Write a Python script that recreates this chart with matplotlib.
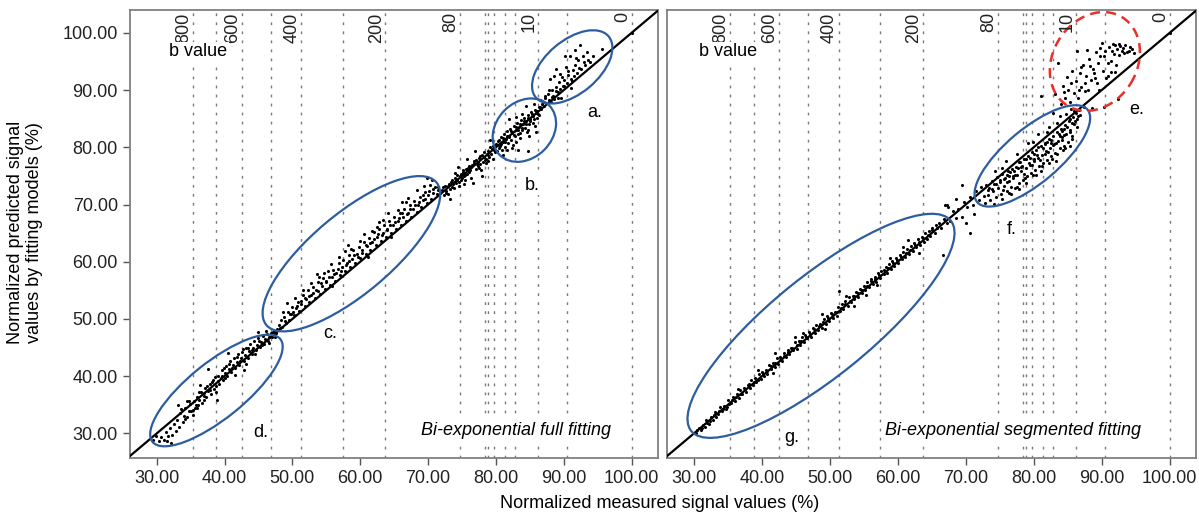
#!/usr/bin/env python3
import numpy as np
import matplotlib
matplotlib.use('Agg')
import matplotlib.pyplot as plt
from matplotlib.patches import Ellipse
from matplotlib.transforms import Affine2D

plt.rcParams['font.family'] = ['Liberation Sans', 'DejaVu Sans']

# ---- data (measured %, predicted %) ----
FULL_D = [(29.4, 28.8), (29.9, 29.5), (30.3, 28.7), (30.7, 29.4), (31.0, 28.9), (31.3, 30.2), (31.6, 29.5),
          (31.9, 30.9), (32.2, 29.8), (32.5, 31.7), (32.8, 30.4), (33.0, 32.4), (33.3, 31.2), (33.5, 33.6),
          (33.8, 32.0), (34.0, 33.1), (34.2, 34.4), (34.5, 32.8), (34.7, 33.9), (34.9, 35.1), (35.1, 34.0),
          (35.3, 33.2), (35.5, 35.6), (35.7, 34.5), (35.9, 36.3), (36.1, 35.0), (36.3, 35.8), (36.5, 37.2),
          (36.7, 35.4), (36.9, 36.6), (37.1, 38.0), (37.3, 36.3), (37.5, 41.2), (37.6, 37.4), (37.8, 38.6),
          (38.0, 36.8), (38.2, 38.9), (38.4, 37.7), (38.6, 39.8), (38.8, 38.2), (39.0, 40.1), (39.2, 38.7),
          (39.4, 39.6), (39.6, 41.0), (39.8, 39.3), (40.0, 40.6), (40.2, 41.8), (40.4, 40.0), (40.6, 41.3),
          (40.8, 42.6), (41.0, 40.7), (41.2, 42.0), (41.4, 43.1), (41.6, 41.5), (41.8, 42.5), (42.0, 43.8),
          (42.2, 41.9), (42.4, 43.2), (42.6, 44.3), (42.8, 42.6), (43.0, 43.7), (43.2, 45.0), (43.4, 43.2),
          (43.6, 44.4), (43.8, 45.6), (44.0, 43.9), (44.2, 45.0), (44.4, 46.1), (44.6, 44.6), (44.8, 45.5),
          (45.0, 46.6), (45.2, 45.1), (45.4, 46.0), (45.6, 47.1), (45.8, 45.7), (46.0, 46.5), (46.2, 47.4),
          (46.4, 46.2), (46.6, 46.9), (46.8, 47.6), (47.0, 46.8), (47.2, 47.3), (47.4, 47.9), (47.6, 47.5),
          (47.8, 48.2), (36.4, 38.4), (40.5, 44.1), (33.2, 35.0), (38.9, 35.9), (42.9, 41.0), (44.9, 47.7),
          (31.5, 28.6), (32.1, 28.4)]
FULL_D2 = [(33.6, 34.3), (34.1, 32.6), (34.8, 35.6), (35.4, 34.1), (35.8, 35.0), (36.2, 37.3), (36.9, 35.9),
           (37.4, 38.3), (37.9, 37.6), (38.3, 39.4), (38.7, 37.3), (39.1, 39.2), (39.6, 40.1), (40.1, 39.6),
           (40.6, 42.1), (41.1, 41.4), (41.5, 40.2), (41.9, 43.3), (42.3, 42.6), (42.7, 44.8), (43.1, 42.2),
           (43.5, 44.9), (44.1, 44.6), (44.5, 43.8), (45.1, 46.2), (45.5, 45.4), (46.1, 47.9), (46.5, 45.8),
           (47.1, 47.8), (47.5, 46.9), (36.0, 34.4), (39.9, 41.4), (43.9, 44.1), (34.4, 35.7), (37.0, 37.0)]
FULL_C = [(48.0, 48.9), (48.3, 49.8), (48.5, 48.6), (48.8, 50.4), (49.0, 49.3), (49.3, 51.2), (49.5, 49.9),
          (49.8, 50.8), (50.0, 52.1), (50.3, 50.7), (50.5, 51.9), (50.8, 53.0), (51.0, 51.4), (51.3, 52.6),
          (51.5, 54.2), (51.8, 52.3), (52.0, 53.5), (52.3, 55.1), (52.5, 53.0), (52.8, 54.2), (53.0, 55.6),
          (53.3, 53.7), (53.5, 55.0), (53.8, 56.5), (54.0, 54.4), (54.3, 55.8), (54.5, 57.1), (54.8, 55.2),
          (55.0, 56.4), (55.3, 58.3), (55.5, 56.0), (55.8, 57.3), (56.0, 58.6), (56.3, 56.7), (56.5, 58.1),
          (56.8, 59.8), (57.0, 57.6), (57.3, 59.0), (57.5, 60.3), (57.8, 58.3), (58.0, 59.7), (58.3, 61.2),
          (58.5, 59.0), (58.8, 60.5), (59.0, 62.0), (59.3, 59.8), (59.5, 61.3), (59.8, 62.5), (60.0, 60.6),
          (60.3, 62.0), (60.5, 63.5), (60.8, 61.4), (61.0, 62.7), (61.3, 64.1), (61.5, 62.1), (61.8, 63.5),
          (62.0, 65.2), (62.3, 62.9), (62.5, 64.3), (62.8, 65.7), (63.0, 63.6), (63.3, 65.0), (63.5, 66.4),
          (63.8, 64.3), (64.0, 65.8), (64.3, 67.2), (64.5, 65.0), (64.8, 66.5), (65.0, 67.9), (65.3, 65.8),
          (65.5, 67.1), (65.8, 68.5), (66.0, 66.5), (66.3, 67.8), (66.5, 69.3), (66.8, 67.2), (67.0, 68.6),
          (67.3, 70.0), (67.5, 67.9), (67.8, 69.3), (68.0, 70.7), (68.3, 68.7), (68.5, 70.0), (68.8, 71.3),
          (69.0, 69.5), (69.3, 70.8), (69.5, 72.2), (69.8, 70.2), (70.0, 71.6), (70.3, 73.4), (70.5, 71.0),
          (70.8, 72.1), (71.0, 73.0), (71.3, 71.8), (71.5, 72.6), (71.8, 72.1), (49.2, 52.8), (53.6, 57.9),
          (58.2, 62.9), (62.7, 67.0), (66.1, 70.4), (69.9, 74.7), (55.9, 55.7), (61.1, 60.8), (64.6, 64.4)]
FULL_C2 = [(48.2, 48.4), (48.9, 49.6), (49.6, 50.9), (50.1, 51.3), (50.7, 52.3), (51.2, 53.1), (51.9, 53.6),
           (52.4, 54.0), (53.1, 54.6), (53.7, 54.9), (54.2, 56.3), (54.9, 56.6), (55.4, 57.4), (56.1, 57.8),
           (56.7, 58.7), (57.2, 58.4), (57.9, 59.5), (58.4, 60.2), (59.1, 61.1), (59.7, 60.9), (60.2, 61.6),
           (60.9, 62.9), (61.4, 63.2), (62.1, 63.9), (62.6, 64.9), (63.2, 64.6), (63.9, 65.6), (64.4, 66.4),
           (65.1, 66.9), (65.7, 67.6), (66.2, 68.6), (66.9, 68.3), (67.4, 69.3), (68.1, 69.9), (68.7, 70.4),
           (69.2, 71.6), (69.6, 71.0), (70.2, 72.4), (70.7, 72.8), (71.4, 73.1)]
FULL_C3 = [(48.6, 51.3), (50.4, 53.6), (51.6, 55.0), (52.7, 56.3), (54.6, 58.0), (55.7, 59.6), (56.9, 60.8),
           (58.6, 62.3), (59.9, 63.6), (60.6, 64.8), (61.7, 65.3), (63.4, 67.3), (64.1, 68.5), (65.6, 69.0),
           (67.1, 71.2), (68.4, 72.6), (69.4, 73.3), (70.6, 74.2), (53.9, 57.3), (57.7, 61.8), (62.4, 66.1),
           (66.7, 70.5)]
FULL_MID = [(72.1, 72.6), (72.3, 71.7), (72.5, 73.3), (72.7, 72.4), (72.9, 71.9), (73.1, 73.6), (73.3, 72.8),
            (73.5, 74.2), (73.6, 73.1), (73.8, 72.9), (74.0, 74.6), (74.1, 73.7), (74.3, 75.1), (74.5, 74.0),
            (74.6, 73.3), (74.8, 75.4), (75.0, 74.6), (75.1, 76.0), (75.3, 75.0), (75.5, 74.3), (75.6, 76.2),
            (75.8, 75.4), (76.0, 76.8), (76.1, 75.6), (76.3, 74.7), (76.5, 76.9), (76.6, 73.8), (76.8, 77.3),
            (77.0, 76.2), (77.1, 77.8), (77.3, 76.7), (77.5, 78.2), (77.6, 77.0), (77.8, 76.1), (78.0, 78.6),
            (78.1, 77.4), (78.3, 79.1), (78.5, 78.0), (78.6, 77.2), (78.8, 79.4), (79.0, 78.3), (79.1, 80.0),
            (79.3, 78.8), (79.5, 77.9), (79.6, 80.3), (79.8, 79.2), (74.4, 76.5), (76.9, 79.3), (73.2, 71.0),
            (77.9, 75.0), (79.2, 81.2), (75.7, 77.9)]
FULL_MID2 = [(72.2, 73.0), (72.6, 72.0), (73.0, 73.2), (73.4, 73.9), (73.7, 73.5), (74.2, 74.3), (74.7, 74.9),
             (74.9, 74.2), (75.2, 75.6), (75.4, 75.2), (75.9, 76.4), (76.2, 76.0), (76.4, 76.5), (76.7, 77.6),
             (77.2, 77.1), (77.4, 77.5), (77.7, 78.5), (78.2, 78.3), (78.4, 77.8), (78.7, 78.9), (78.9, 78.7),
             (79.4, 79.7), (79.7, 79.6), (79.9, 80.4), (75.3, 73.6), (77.5, 76.3), (78.8, 77.6), (73.9, 75.5)]
FULL_B = [(80.0, 80.6), (80.1, 79.3), (80.3, 81.1), (80.4, 79.8), (80.6, 80.2), (80.7, 81.8), (80.9, 79.6),
          (81.0, 80.9), (81.2, 82.3), (81.3, 80.1), (81.5, 81.4), (81.6, 82.8), (81.8, 80.7), (81.9, 81.9),
          (82.1, 83.2), (82.2, 81.3), (82.4, 82.5), (82.5, 80.4), (82.7, 83.7), (82.8, 82.0), (83.0, 83.1),
          (83.1, 84.3), (83.3, 82.4), (83.4, 83.6), (83.6, 81.7), (83.7, 84.8), (83.9, 83.0), (84.0, 84.1),
          (84.2, 85.2), (84.3, 83.4), (84.5, 84.6), (84.6, 82.6), (84.8, 85.6), (84.9, 84.0), (85.1, 85.0),
          (85.2, 86.1), (85.4, 84.3), (85.5, 85.4), (85.7, 83.8), (85.8, 86.5), (86.0, 85.2), (86.1, 86.3),
          (86.3, 87.0), (86.4, 85.6), (86.6, 86.7), (86.8, 87.5), (83.2, 79.5), (82.0, 84.9), (84.4, 87.3),
          (85.9, 82.7), (81.1, 78.7), (86.5, 88.3), (83.8, 85.9), (82.9, 80.9), (84.7, 83.1), (84.8, 79.3)]
FULL_B2 = [(80.2, 80.4), (80.5, 81.3), (80.8, 80.6), (81.1, 81.6), (81.4, 81.0), (81.7, 82.0), (82.0, 81.8),
           (82.3, 82.9), (82.6, 82.2), (82.9, 83.5), (83.2, 83.0), (83.5, 84.0), (83.8, 83.3), (84.1, 84.6),
           (84.4, 84.0), (84.7, 85.1), (85.0, 84.6), (85.3, 85.8), (85.6, 85.0), (85.9, 86.0), (86.2, 85.9),
           (86.5, 87.0), (82.4, 79.9), (83.6, 82.5), (84.9, 82.0), (81.6, 79.6), (85.6, 87.6), (83.0, 85.3)]
FULL_A = [(86.9, 88.0), (87.1, 87.2), (87.3, 88.6), (87.5, 87.7), (87.7, 89.3), (87.9, 88.2), (88.1, 87.9),
          (88.2, 90.1), (88.4, 89.0), (88.6, 88.5), (88.8, 90.6), (88.9, 93.6), (89.1, 89.6), (89.3, 91.4),
          (89.5, 90.2), (89.7, 92.3), (89.9, 90.7), (90.1, 91.8), (90.3, 94.1), (90.5, 91.2), (90.7, 92.7),
          (90.9, 95.9), (91.1, 92.0), (91.3, 93.5), (91.5, 92.4), (91.7, 94.4), (91.9, 93.0), (92.1, 95.2),
          (92.4, 97.8), (92.6, 93.6), (92.9, 95.9), (93.2, 94.4), (93.5, 96.6), (93.9, 94.9), (94.3, 96.0),
          (95.7, 97.2), (89.6, 88.7), (91.0, 90.4), (88.0, 91.9), (100.0, 100.0)]
FULL_A2 = [(87.2, 88.9), (87.8, 90.0), (88.3, 88.8), (88.9, 89.9), (89.4, 92.8), (90.0, 90.8), (90.6, 93.4),
           (91.2, 91.6), (91.8, 95.6), (92.3, 93.9), (93.0, 94.9), (93.6, 95.2), (90.2, 96.0), (88.5, 92.4),
           (91.6, 97.0), (89.2, 88.6)]

SEG_G = [(30.3, 30.1), (30.7, 31.0), (31.0, 30.6), (31.3, 31.5), (31.6, 31.2), (31.9, 31.8), (32.2, 31.7),
         (32.5, 32.9), (32.8, 32.4), (33.1, 33.8), (33.3, 32.9), (33.6, 33.4), (33.9, 34.6), (34.2, 33.9),
         (34.4, 34.8), (34.7, 34.2), (35.0, 35.9), (35.2, 35.1), (35.5, 35.3), (35.8, 36.4), (36.0, 35.7),
         (36.3, 36.9), (36.6, 36.2), (36.8, 37.6), (37.1, 36.8), (37.4, 37.9), (37.6, 37.2), (37.9, 38.5),
         (38.2, 38.0), (38.4, 39.3), (38.7, 38.4), (39.0, 39.7), (39.2, 39.0), (39.5, 40.3), (39.8, 39.5),
         (40.0, 40.8), (40.3, 40.0), (40.6, 41.1), (40.8, 40.4), (41.1, 42.0), (41.4, 41.2), (41.6, 42.3),
         (41.9, 41.6), (42.2, 43.2), (42.4, 42.1), (42.7, 43.4), (43.0, 42.7), (43.2, 44.1), (43.5, 43.4),
         (43.8, 44.6), (44.0, 43.8), (44.3, 45.0), (44.6, 44.5), (44.8, 45.9), (45.1, 44.8), (45.4, 46.1),
         (45.6, 45.5), (45.9, 46.8), (46.2, 45.9), (46.4, 47.2), (46.7, 46.6), (47.0, 47.8), (47.2, 46.9),
         (47.5, 48.4), (47.8, 47.6), (48.0, 49.0), (48.3, 48.1), (48.6, 49.2), (48.8, 48.5), (49.1, 50.0),
         (49.4, 49.2), (49.6, 50.6), (49.9, 49.7), (50.2, 51.1), (50.4, 50.1), (50.7, 51.3), (51.0, 50.6),
         (51.2, 52.1), (51.5, 51.4), (51.8, 52.6), (52.0, 51.7), (52.3, 53.2), (52.6, 52.3), (52.8, 53.9),
         (53.1, 53.0), (53.4, 54.1), (53.6, 53.5), (53.9, 54.8), (54.2, 53.9), (54.4, 55.3), (54.7, 54.5),
         (55.0, 55.8), (55.2, 55.0), (55.5, 56.4), (55.8, 55.6), (56.0, 56.9), (56.3, 56.1), (56.6, 57.4),
         (56.8, 56.5), (57.1, 58.0), (57.4, 57.2), (57.6, 58.3), (57.9, 57.8), (58.2, 59.0), (58.4, 58.1),
         (58.7, 59.6), (59.0, 58.8), (59.2, 60.1), (59.5, 59.3), (59.8, 60.7), (60.0, 59.8), (60.3, 61.2),
         (60.6, 60.4), (60.8, 61.7), (61.1, 60.9), (61.4, 62.3), (61.6, 61.4), (61.9, 62.8), (62.2, 61.8),
         (62.4, 63.3), (62.7, 62.5), (63.0, 63.9), (63.2, 62.9), (63.5, 64.4), (63.8, 63.4), (64.0, 65.0),
         (64.3, 64.0), (64.6, 65.4), (64.8, 64.5), (65.1, 65.9), (65.4, 65.0), (65.6, 66.4), (42.0, 44.0),
         (44.9, 46.9), (39.4, 41.1), (57.0, 55.9), (61.5, 63.8), (63.1, 61.6), (53.5, 52.2), (48.9, 50.9),
         (51.4, 54.9)]
SEG_G2 = [(30.5, 30.6), (31.2, 30.9), (31.8, 32.3), (32.4, 32.2), (33.0, 33.2), (33.7, 34.0), (34.3, 34.3),
          (34.9, 34.7), (35.6, 35.9), (36.2, 36.4), (36.9, 36.9), (37.5, 37.8), (38.1, 38.6), (38.8, 38.9),
          (39.4, 39.4), (40.1, 40.4), (40.7, 40.9), (41.3, 41.7), (42.0, 42.3), (42.6, 42.9), (43.3, 43.6),
          (43.9, 44.2), (44.5, 44.9), (45.2, 45.5), (45.8, 46.1), (46.5, 46.8), (47.1, 47.3), (47.7, 48.2),
          (48.4, 48.7), (49.0, 49.5), (49.7, 50.1), (50.3, 50.8), (51.0, 51.2), (51.6, 51.9), (52.2, 52.7),
          (52.9, 53.2), (53.5, 54.0), (54.1, 54.5), (54.8, 55.1), (55.4, 55.7), (56.1, 56.6), (56.7, 57.0),
          (57.3, 57.7), (58.0, 58.5), (58.6, 58.9), (59.3, 59.8), (59.9, 60.3), (60.5, 60.9), (61.2, 61.6),
          (61.8, 62.0), (62.5, 62.9), (63.1, 63.5), (63.7, 64.1), (64.4, 64.7), (65.0, 65.5), (65.7, 65.9),
          (46.0, 47.6), (52.4, 54.1), (58.9, 60.6), (55.3, 54.2), (36.5, 37.8), (41.7, 40.6), (60.7, 62.5),
          (49.3, 48.3)]
SEG_MID = [(66.0, 66.7), (66.4, 65.9), (66.8, 67.5), (67.2, 66.8), (67.4, 69.6), (67.7, 67.2), (68.1, 68.9),
           (68.5, 67.6), (68.9, 69.3), (69.4, 67.9), (69.8, 70.4), (70.2, 69.5), (70.6, 71.3), (71.1, 70.0),
           (71.5, 72.4), (71.9, 70.8), (72.3, 73.0), (72.7, 71.5), (70.0, 66.8), (71.2, 68.4), (72.9, 70.2),
           (68.6, 70.9), (70.6, 65.1), (67.2, 69.9), (66.6, 61.2), (66.9, 69.9), (69.4, 73.4)]
SEG_F = [(73.0, 73.4), (73.2, 71.6), (73.4, 72.9), (73.6, 70.8), (73.8, 74.1), (74.0, 72.3), (74.2, 73.5),
         (74.4, 71.4), (74.6, 74.8), (74.8, 72.9), (75.0, 73.9), (75.2, 71.8), (75.4, 75.3), (75.6, 73.3),
         (75.8, 74.6), (76.0, 72.4), (76.2, 75.9), (76.4, 74.1), (76.6, 73.0), (76.8, 76.2), (77.0, 74.7),
         (77.2, 72.9), (77.4, 76.6), (77.6, 75.2), (77.8, 73.8), (78.0, 77.5), (78.2, 75.8), (78.4, 74.2),
         (78.6, 77.9), (78.8, 76.4), (79.0, 74.9), (79.2, 78.5), (79.4, 76.9), (79.6, 75.5), (79.8, 79.2),
         (80.0, 77.6), (80.2, 76.0), (80.4, 79.6), (80.6, 78.1), (80.8, 76.7), (81.0, 80.3), (81.2, 78.7),
         (81.4, 77.2), (81.6, 80.8), (81.8, 79.3), (82.0, 77.8), (82.2, 81.5), (82.4, 79.9), (82.6, 78.5),
         (82.8, 82.0), (83.0, 80.6), (83.2, 79.0), (83.4, 82.6), (83.6, 81.1), (83.8, 79.8), (84.0, 83.2),
         (84.2, 81.8), (84.4, 80.3), (84.6, 83.9), (84.8, 82.4), (85.0, 81.0), (85.2, 84.6), (85.4, 83.1),
         (85.6, 81.9), (85.8, 85.3), (86.0, 84.0), (86.2, 86.0), (86.4, 84.9), (86.6, 86.5), (86.8, 85.7),
         (74.3, 75.9), (75.9, 77.6), (77.5, 78.9), (79.1, 80.7), (80.7, 82.3), (82.3, 83.6), (83.9, 85.4),
         (85.5, 86.7), (76.7, 71.8), (78.9, 73.7), (81.1, 75.9), (83.3, 77.6), (85.3, 80.2), (77.1, 75.9),
         (79.5, 78.2), (81.7, 80.5), (84.1, 82.9), (80.1, 78.9), (82.5, 81.3), (78.3, 76.8), (76.3, 75.0),
         (84.5, 82.1), (75.5, 72.5), (86.3, 83.5)]
SEG_F2 = [(73.3, 72.5), (73.9, 72.8), (74.5, 73.6), (75.1, 74.2), (75.7, 74.5), (76.1, 73.9), (76.5, 75.6),
          (76.9, 74.9), (77.3, 75.1), (77.7, 76.3), (78.1, 76.6), (78.5, 75.4), (78.9, 77.9), (79.3, 77.3),
          (79.7, 76.9), (80.1, 77.9), (80.5, 78.6), (80.9, 77.8), (81.3, 79.8), (81.6, 78.9), (82.1, 79.2),
          (82.5, 80.8), (82.9, 80.4), (83.3, 80.8), (83.7, 82.4), (84.1, 81.2), (84.5, 83.2), (84.9, 83.6),
          (85.3, 82.6), (85.7, 84.2), (86.1, 84.6), (86.5, 85.4), (77.9, 72.8), (80.3, 75.2), (82.7, 77.9),
          (84.3, 79.6), (79.9, 81.0), (75.3, 76.4), (81.9, 82.7), (83.5, 84.3)]
SEG_F3 = [(74.1, 70.1), (75.3, 70.9), (76.4, 72.0), (77.6, 73.1), (78.7, 74.6), (79.9, 75.1), (81.2, 76.8),
          (82.3, 77.3), (83.4, 78.8), (84.6, 79.9), (85.7, 81.4), (80.6, 80.0), (82.0, 80.9), (83.9, 82.0),
          (76.0, 75.2), (77.9, 77.4)]
SEG_E = [(83.2, 89.3), (83.6, 94.7), (84.0, 87.6), (84.3, 90.8), (84.6, 88.7), (84.9, 92.3), (85.1, 90.1),
         (85.4, 87.9), (85.7, 93.4), (85.9, 89.5), (86.2, 91.6), (86.3, 96.8), (86.5, 88.6), (86.8, 92.9),
         (87.0, 90.5), (87.2, 94.3), (87.5, 89.8), (87.7, 92.4), (88.0, 90.1), (88.2, 95.5), (88.4, 91.7),
         (88.7, 93.7), (88.9, 93.0), (89.1, 96.6), (89.3, 91.2), (89.5, 94.8), (89.8, 97.4), (90.0, 98.2),
         (90.2, 93.3), (90.4, 95.9), (90.6, 92.1), (90.9, 92.4), (91.1, 97.6), (91.3, 95.0), (91.5, 96.8),
         (91.7, 98.0), (91.9, 97.9), (92.1, 94.4), (92.3, 97.1), (92.5, 96.2), (92.7, 97.7), (93.0, 96.9),
         (93.2, 97.4), (93.5, 97.9), (93.8, 96.6), (94.1, 97.5), (94.4, 97.1), (94.8, 96.5), (90.4, 87.1),
         (88.6, 86.8), (92.4, 88.5), (86.0, 86.4), (87.4, 87.0), (89.6, 90.0), (91.4, 93.1), (84.8, 85.9),
         (82.8, 86.0), (85.3, 85.0), (81.1, 88.9), (100.0, 100.0)]
SEG_E2 = [(84.5, 89.6), (85.5, 91.2), (86.6, 90.0), (87.6, 91.3), (88.3, 94.2), (89.0, 92.1), (89.7, 95.9),
          (90.5, 96.8), (91.0, 94.8), (91.8, 96.3), (92.6, 98.1), (93.3, 96.5), (94.0, 96.9), (87.9, 97.0),
          (86.9, 94.0), (92.0, 93.2)]

# b-value reference lines (measured signal % at each b value)
B_LINES = [35.3, 38.8, 42.5, 46.8, 51.3, 57.4, 63.7, 74.7, 78.4, 78.9, 79.7, 81.4, 82.8, 86.2, 90.5, 100.0]
B_LABEL_POS = [35.3, 42.5, 51.3, 63.7, 74.7, 86.2, 100.0]
B_LABELS = ['800', '600', '400', '200', '80', '10', '0']

TICKS = [30, 40, 50, 60, 70, 80, 90, 100]
XLIM = (26.0, 103.9)
YLIM = (25.7, 104.0)

# ellipse annotations: centre (data), major/minor length (px), angle (deg)
FULL_ELLIPSES = [((38.8, 37.5), 164, 56, 38.8), ((58.7, 61.4), 222, 80, 40),
                 ((84.2, 83.0), 70, 56, 45), ((91.25, 94.05), 95, 53, 40)]
SEG_ELLIPSES = [((48.7, 48.8), 334, 100, 39), ((79.8, 78.5), 144, 54, 40)]
SEG_RED = ((89.0, 95.0), 104, 84, 58)
FULL_TAGS = [('a.', 94.6, 86.0), ('b.', 85.3, 73.4), ('c.', 55.6, 47.5), ('d.', 45.3, 30.2)]
SEG_TAGS = [('e.', 95.1, 86.6), ('f.', 76.7, 65.6), ('g.', 44.4, 29.3)]

BLUE = '#2e5d9f'
FS = 13

fig = plt.figure(figsize=(11.99, 5.17), dpi=100)
ax1 = fig.add_axes([0.1081, 0.1141, 0.4407, 0.8666])
ax2 = fig.add_axes([0.5561, 0.1141, 0.4415, 0.8666])


def add_ellipse(ax, spec, **kw):
	(cx, cy), w, h, ang = spec
	bb = ax.get_position()
	W, H = fig.get_size_inches() * fig.dpi
	ppx = bb.width * W / (XLIM[1] - XLIM[0])
	ppy = bb.height * H / (YLIM[1] - YLIM[0])
	tr = Affine2D().scale(1 / ppx, 1 / ppy).translate(cx, cy) + ax.transData
	e = Ellipse((0, 0), w, h, angle=ang, fill=False, transform=tr, zorder=5, **kw)
	ax.add_patch(e)


def draw_panel(ax, groups, title, title_x, bval_x):
	ax.set_xlim(*XLIM)
	ax.set_ylim(*YLIM)
	for bx in B_LINES:
		ax.axvline(bx, color='#7a7a7a', lw=1.0, ls=(0, (2, 4.5)), zorder=1)
	for bx, lab in zip(B_LABEL_POS, B_LABELS):
		ax.text(bx - 1.35, 103.6, lab, rotation=90, ha='center', va='top', fontsize=FS, color='#222222', zorder=6)
	ax.text(bval_x, 96.7, 'b value', ha='left', va='center', fontsize=FS,
			bbox=dict(fc='white', ec='none', pad=1), zorder=6)
	for g in groups:
		arr = np.array(g)
		ax.scatter(arr[:, 0], arr[:, 1], s=5, c='black', linewidths=0, zorder=3)
	ax.plot([20, 110], [20, 110], color='black', lw=1.6, zorder=4)
	ax.text(title_x, 30.5, title, style='italic', ha='center', va='center', fontsize=FS,
			bbox=dict(fc='white', ec='none', pad=2), zorder=6)
	ax.set_xticks(TICKS)
	ax.set_xticklabels([f'{t:.2f}' for t in TICKS], fontsize=FS, color='#222222')
	ax.tick_params(axis='both', direction='out', length=5, width=1, color='#555555')
	for s in ax.spines.values():
		s.set_color('#808080')
		s.set_linewidth(1.3)


draw_panel(ax1, [FULL_D, FULL_D2, FULL_C, FULL_C2, FULL_C3, FULL_MID, FULL_MID2, FULL_B, FULL_B2, FULL_A, FULL_A2],
		   'Bi-exponential full fitting', 83.0, 31.8)
draw_panel(ax2, [SEG_G, SEG_G2, SEG_MID, SEG_F, SEG_F2, SEG_F3, SEG_E, SEG_E2],
		   'Bi-exponential segmented fitting', 77.0, 30.8)

ax1.set_yticks(TICKS)
ax1.set_yticklabels([f'{t:.2f}' for t in TICKS], fontsize=FS, color='#222222')
ax2.set_yticks([])

for spec in FULL_ELLIPSES:
	add_ellipse(ax1, spec, edgecolor=BLUE, lw=1.6)
for spec in SEG_ELLIPSES:
	add_ellipse(ax2, spec, edgecolor=BLUE, lw=1.6)
add_ellipse(ax2, SEG_RED, edgecolor='#e8302a', lw=1.8, ls=(0, (4, 2.5)))

for lab, x, y in FULL_TAGS:
	ax1.text(x, y, lab, ha='center', va='center', fontsize=FS, bbox=dict(fc='white', ec='none', pad=1), zorder=6)
for lab, x, y in SEG_TAGS:
	ax2.text(x, y, lab, ha='center', va='center', fontsize=FS, bbox=dict(fc='white', ec='none', pad=1), zorder=6)

fig.text(0.55, 0.026, 'Normalized measured signal values (%)', ha='center', va='center', fontsize=FS)
fig.text(0.021, 0.55, 'Normalized predicted signal\nvalues by fitting models (%)', rotation=90,
		 ha='center', va='center', fontsize=FS, multialignment='center')

fig.savefig('out.png', dpi=100)
